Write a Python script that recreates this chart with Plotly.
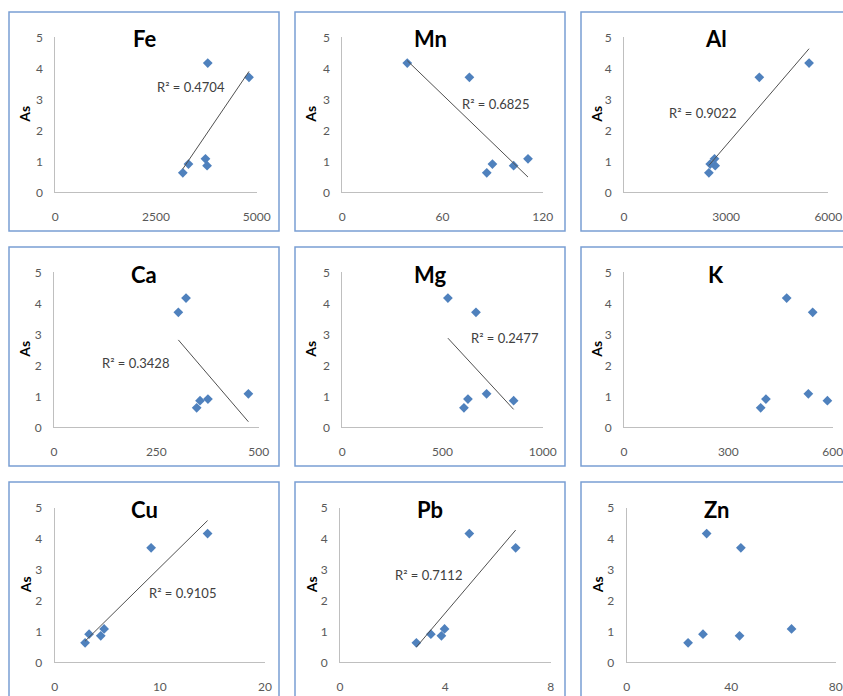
import numpy as np
import plotly.graph_objects as go

# Arsenic concentration for the six samples (y values, shared by every panel)
As = [4.17, 3.71, 1.08, 0.86, 0.91, 0.63]

# Companion element concentrations for the same six samples
Fe = [3785, 4809, 3728, 3768, 3306, 3166]
Mn = [38.9, 76.1, 111.2, 102.6, 89.9, 86.5]
Al = [5435, 3974, 2659, 2678, 2532, 2493]
Ca = [322.5, 303.7, 474.8, 356.7, 376.0, 348.5]
Mg = [527, 667, 720, 855, 627, 607]
K = [467.7, 542.5, 530.0, 584.7, 408.0, 393.0]
Cu = [14.54, 9.17, 4.70, 4.38, 3.27, 2.89]
Pb = [4.91, 6.67, 3.97, 3.85, 3.45, 2.90]
Zn = [30.6, 43.7, 63.1, 43.2, 29.2, 23.5]

elements = ["Fe", "Mn", "Al", "Ca", "Mg", "K", "Cu", "Pb", "Zn"]
xvalues = [Fe, Mn, Al, Ca, Mg, K, Cu, Pb, Zn]
x_ticks = [
    [0, 2500, 5000], [0, 60, 120], [0, 3000, 6000],
    [0, 250, 500], [0, 500, 1000], [0, 300, 600],
    [0, 10, 20], [0, 4, 8], [0, 40, 80],
]
y_ticks = [0, 1, 2, 3, 4, 5]

# Coefficient of determination printed beside each trendline (None = no trendline)
r2_text = ["0.4704", "0.6825", "0.9022", "0.3428", "0.2477", None, "0.9105", "0.7112", None]
r2_pos = [
    (3381, 3.39), (91.5, 2.84), (2299, 2.55),
    (198, 2.09), (812, 2.87), None,
    (12.2, 2.23), (3.37, 2.82), None,
]

W, H = 843, 696
FONT = "Lato"
BLUE = "#4F81BD"

# Pixel geometry of the 3x3 grid of chart boxes
panel_left = [9, 295, 581]
panel_top = [12, 247, 482]
panel_w, panel_h = 270, 219
# plot-area extents inside each box (x from y-axis to end of x-axis)
plot_x = [
    (55.3, 256.7), (342.3, 542.7), (624.0, 828.3),
    (54.0, 258.7), (342.3, 542.7), (624.0, 832.7),
    (54.7, 265.0), (340.0, 550.7), (626.7, 835.7),
]
row_y = [(37.3, 192.3), (272.3, 427.3), (508.0, 662.3)]

fig = go.Figure()
shapes = []
annotations = []
layout_axes = {}

for i, (name, xs) in enumerate(zip(elements, xvalues)):
    r, c = divmod(i, 3)
    n = i + 1
    xid = "x" if n == 1 else f"x{n}"
    yid = "y" if n == 1 else f"y{n}"
    xkey = "xaxis" if n == 1 else f"xaxis{n}"
    ykey = "yaxis" if n == 1 else f"yaxis{n}"

    x0, x1 = plot_x[i]
    ytop, ybot = row_y[r]

    layout_axes[xkey] = dict(
        domain=[x0 / W, x1 / W], anchor=yid, range=[0, x_ticks[i][-1]],
        tickvals=x_ticks[i], showgrid=False, zeroline=False, automargin=False,
        showline=True, linecolor="#BFBFBF", linewidth=1, ticks="",
        ticklabeloverflow="allow",
        ticklabelstandoff=13, tickfont=dict(family=FONT, size=12, color="#595959"),
    )
    layout_axes[ykey] = dict(
        domain=[1 - ybot / H, 1 - ytop / H], anchor=xid, range=[0, 5],
        tickvals=y_ticks, showgrid=False, zeroline=False, automargin=False,
        showline=True, linecolor="#BFBFBF", linewidth=1, ticks="",
        ticklabeloverflow="allow",
        ticklabelstandoff=9, tickfont=dict(family=FONT, size=12, color="#595959"),
    )

    # data points
    fig.add_trace(go.Scatter(
        x=xs, y=As, mode="markers", xaxis=xid, yaxis=yid,
        marker=dict(symbol="diamond", size=7.5, color=BLUE, line=dict(width=0)),
        showlegend=False, cliponaxis=False,
    ))

    # linear least-squares trendline over the data range
    if r2_text[i] is not None:
        slope, icpt = np.polyfit(xs, As, 1)
        tx = np.array([min(xs), max(xs)])
        fig.add_trace(go.Scatter(
            x=tx, y=slope * tx + icpt, mode="lines", xaxis=xid, yaxis=yid,
            line=dict(color="#505050", width=1), showlegend=False, hoverinfo="skip",
        ))
        ax, ay = r2_pos[i]
        annotations.append(dict(
            x=ax, y=ay, xref=xid, yref=yid, text=f"R² = {r2_text[i]}",
            showarrow=False, font=dict(family=FONT, size=13, color="#404040"),
        ))

    # chart box border
    pl, pt = panel_left[c], panel_top[r]
    shapes.append(dict(
        type="rect", xref="paper", yref="paper",
        x0=pl / W, x1=(pl + panel_w) / W,
        y0=1 - (pt + panel_h) / H, y1=1 - pt / H,
        line=dict(color="#7A9FD3", width=1.5), fillcolor="rgba(0,0,0,0)", layer="below",
    ))

    # element title
    annotations.append(dict(
        x=(pl + panel_w / 2) / W, y=1 - (pt + 27) / H, xref="paper", yref="paper",
        text=name, showarrow=False, xanchor="center", yanchor="middle",
        font=dict(family=FONT, size=22, color="#000000", weight="bold"),
    ))

    # y-axis title
    annotations.append(dict(
        x=(pl + 16) / W, y=1 - ((ytop + ybot) / 2) / H, xref="paper", yref="paper",
        text="As", showarrow=False, textangle=-90, xanchor="center", yanchor="middle",
        font=dict(family=FONT, size=14, color="#000000", weight="bold"),
    ))

fig.update_layout(
    width=W, height=H, margin=dict(l=0, r=0, t=0, b=0, autoexpand=False),
    paper_bgcolor="white", plot_bgcolor="white",
    shapes=shapes, annotations=annotations, **layout_axes,
)

fig.write_html("out.html")
